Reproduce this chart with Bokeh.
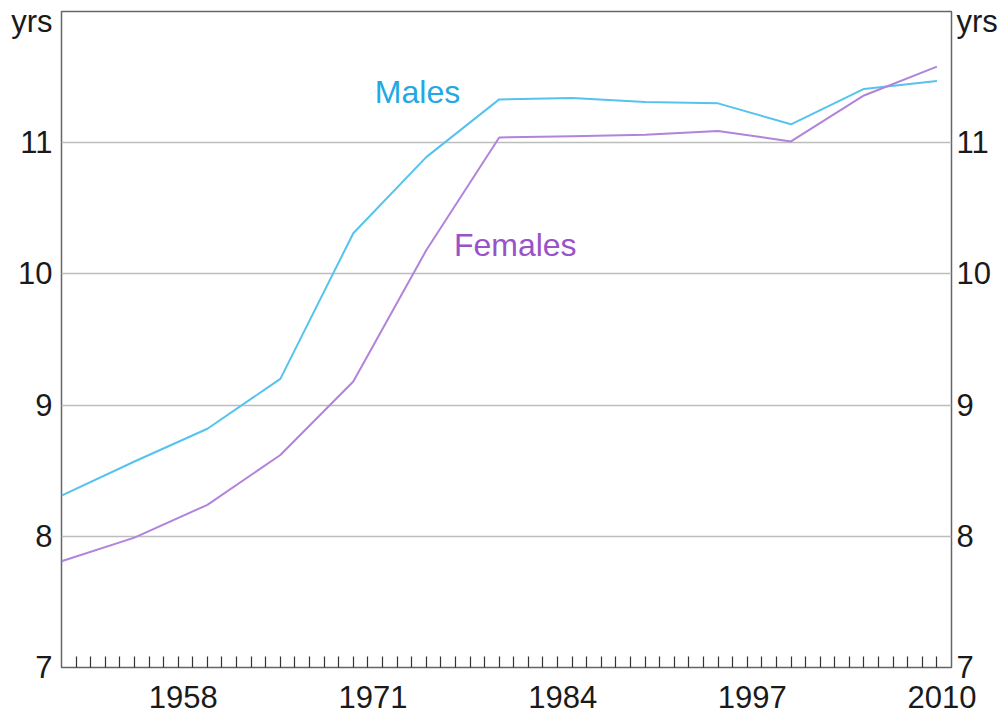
from bokeh.plotting import figure
from bokeh.models import FixedTicker, LinearAxis, Range1d, ColumnDataSource
from bokeh.core.properties import value
from bokeh.embed import file_html
from bokeh.resources import INLINE

years = [1950, 1955, 1960, 1965, 1970, 1975, 1980, 1985, 1990, 1995, 2000, 2005, 2010]
males = [8.31, 8.57, 8.82, 9.20, 10.31, 10.89, 11.33, 11.34, 11.31, 11.30, 11.14, 11.41, 11.47]
females = [7.81, 7.99, 8.24, 8.62, 9.18, 10.18, 11.04, 11.05, 11.06, 11.09, 11.01, 11.36, 11.58]
tick_years = [1958, 1971, 1984, 1997, 2010]
y_ticks = [7, 8, 9, 10, 11]
unit_label = "yrs"
series_names = ["Males", "Females"]

FONT = "Liberation Sans"
MALE_LINE = "#55c3ee"
FEMALE_LINE = "#b283dc"
MALE_TEXT = "#22a9e2"
FEMALE_TEXT = "#9a52c8"
TICK_FS = "31px"

p = figure(width=1000, height=720, output_backend="svg", toolbar_location=None,
           x_range=Range1d(1950, 2011), y_range=Range1d(7, 12),
           min_border_left=61, min_border_right=48, min_border_top=11, min_border_bottom=53)

p.outline_line_color = "#666666"
p.outline_line_width = 1.5
p.background_fill_color = "white"
p.border_fill_color = "white"

# x axis
xa = p.xaxis[0]
label_pos = [y + 0.35 for y in tick_years]
xa.ticker = FixedTicker(ticks=label_pos, minor_ticks=list(range(1951, 2011)))
xa.major_label_overrides = {lp: str(y) for lp, y in zip(label_pos, tick_years)}
xa.major_tick_in = 0
xa.major_tick_out = 0
xa.minor_tick_in = 11
xa.minor_tick_out = 0
xa.minor_tick_line_color = "#333333"
xa.minor_tick_line_width = 1.2
xa.axis_line_color = None
xa.major_label_text_font = FONT
xa.major_label_text_font_size = TICK_FS
xa.major_label_text_color = "#1a1a1a"
xa.major_label_standoff = 18

# unit label position near the top of the value axis
unit_pos = 11.925
y_axis_ticks = y_ticks + [unit_pos]
overrides = {unit_pos: unit_label}


def style_y(ax, standoff):
    ax.ticker = FixedTicker(ticks=y_axis_ticks)
    ax.major_label_overrides = overrides
    ax.major_tick_in = 0
    ax.major_tick_out = 0
    ax.minor_tick_line_color = None
    ax.axis_line_color = None
    ax.major_label_text_font = FONT
    ax.major_label_text_font_size = TICK_FS
    ax.major_label_text_color = "#1a1a1a"
    ax.major_label_standoff = standoff


style_y(p.yaxis[0], 9)
ra = LinearAxis()
style_y(ra, 5)
p.add_layout(ra, "right")

p.xgrid.grid_line_color = None
p.ygrid.ticker = FixedTicker(ticks=[8, 9, 10, 11])
p.ygrid.grid_line_color = "#bdbdbd"
p.ygrid.grid_line_width = 1.3

src = ColumnDataSource(dict(year=years, males=males, females=females))
p.line("year", "males", source=src, line_color=MALE_LINE, line_width=2)
p.line("year", "females", source=src, line_color=FEMALE_LINE, line_width=2)

p.text(x=[1974.4], y=[11.39], text=[series_names[0]], text_font=value(FONT),
       text_font_size="32px", text_color=MALE_TEXT, text_align="center", text_baseline="middle")
p.text(x=[1981.1], y=[10.22], text=[series_names[1]], text_font=value(FONT),
       text_font_size="32px", text_color=FEMALE_TEXT, text_align="center", text_baseline="middle")

open("out.html", "w").write(file_html(p, INLINE))
